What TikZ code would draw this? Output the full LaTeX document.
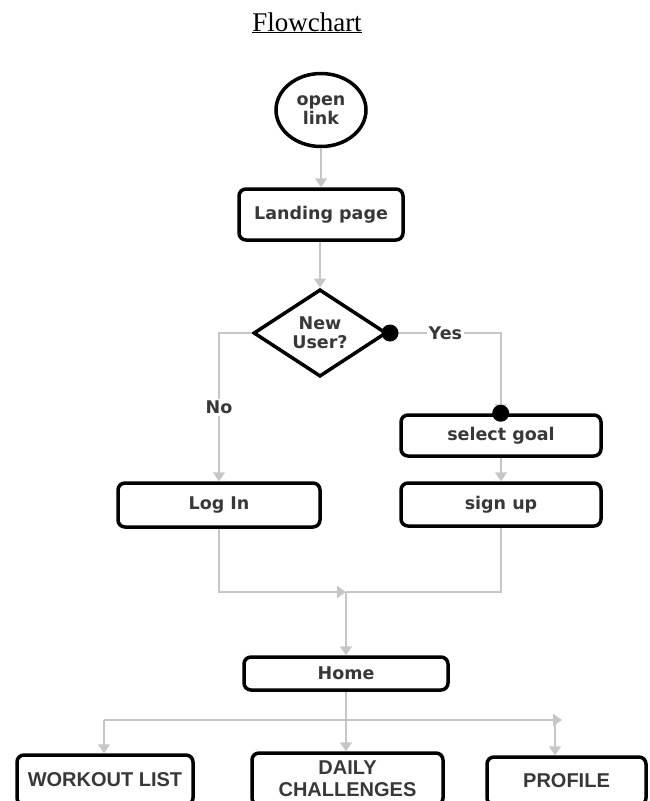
\documentclass[tikz,border=0pt]{standalone}
\usepackage{fontspec}
\setmainfont{Liberation Serif}
\newfontfamily\boxfont{DejaVu Sans}
\newfontfamily\tabfont{Liberation Sans}
\usetikzlibrary{shapes.geometric,arrows.meta}
\definecolor{linegray}{HTML}{C6C6C6}
\definecolor{textgray}{HTML}{383838}
\tikzset{
  flowbox/.style={rectangle, draw=black, line width=3.5pt, rounded corners=7pt,
    align=center, inner sep=0pt, text=textgray,
    font=\boxfont\bfseries\fontsize{17.5}{19}\selectfont},
  endbox/.style={flowbox, font=\tabfont\bfseries\fontsize{20}{22}\selectfont},
  conn/.style={draw=linegray, line width=1.8pt},
  arr/.style={conn, -{Triangle[length=9pt,width=12pt]}},
  blackdot/.style={circle, fill=black, inner sep=0pt, minimum size=17pt},
  lbl/.style={fill=white, inner sep=2pt, text=textgray,
    font=\boxfont\bfseries\fontsize{17.5}{19}\selectfont}
}
\begin{document}
\begin{tikzpicture}[x=1pt,y=-1pt]
                    \clip (0,0) rectangle (649,801);
                    \node[anchor=base] (title) at (307,31) {\fontsize{27}{30}\selectfont\underline{Flowchart}};
                    % start and decision
                    \node[flowbox, ellipse, minimum width=90pt, minimum height=73pt] (openlink) at (321,110) {open\\link};
                    \node[flowbox, minimum width=164pt, minimum height=51pt] (landing) at (321,214.5) {Landing page};
                    \node[flowbox, diamond, rounded corners=0pt, minimum width=133pt, minimum height=82pt] (newuser) at (320,333) {New\\User?};
                    % two branches
                    \node[flowbox, minimum width=200pt, minimum height=41pt] (goal) at (501,435.5) {select goal};
                    \node[flowbox, minimum width=200pt, minimum height=43pt] (signup) at (501,504.5) {sign up};
                    \node[flowbox, minimum width=202pt, minimum height=44pt] (login) at (219,505) {Log In};
                    \node[flowbox, minimum width=204pt, minimum height=33pt] (home) at (346,673.5) {Home};
                    % bottom row
                    \node[endbox, minimum width=176pt, minimum height=50pt] (workout) at (105,780) {WORKOUT LIST};
                    \node[endbox, minimum width=191pt, minimum height=52pt] (daily) at (347.5,779) {DAILY\\CHALLENGES};
                    \node[endbox, minimum width=159pt, minimum height=48pt] (profile) at (566.5,781) {PROFILE};
                    \coordinate (yesdot) at (390,333);
                    \coordinate (yesturn) at (500.7,333);
                    \coordinate (merge) at (346,592);
                    \coordinate (busL) at (104,720);
                    \coordinate (busR) at (562,720);
                    \coordinate (busP) at (555,720);
                    \draw[arr] (openlink) -- (landing);
                    \draw[arr] (landing.south -| newuser.north) -- (newuser.north);
                    \draw[arr] (newuser.west) -| node[lbl, pos=0.75] {No} (login.north);
                    \draw[arr] (yesdot) -- node[lbl] {Yes} (yesturn) -- (yesturn |- goal.north);
                    \draw[arr] (goal) -- (signup);
                    \draw[arr] (login.south) |- (merge);
                    \draw[conn] (signup.south) |- (merge);
                    \draw[arr] (merge) -- (home.north);
                    \draw[arr] (home.south) -- (home.south |- daily.north);
                    \draw[arr] (busL) -- (busR);
                    \draw[arr] (busL) -- (busL |- workout.north);
                    \draw[arr] (busP) -- (busP |- profile.north);
                    \node[blackdot] (dotyes) at (yesdot) {};
                    \node[blackdot] (dotgoal) at (yesturn |- goal.north) {};
                \end{tikzpicture}
\end{document}
